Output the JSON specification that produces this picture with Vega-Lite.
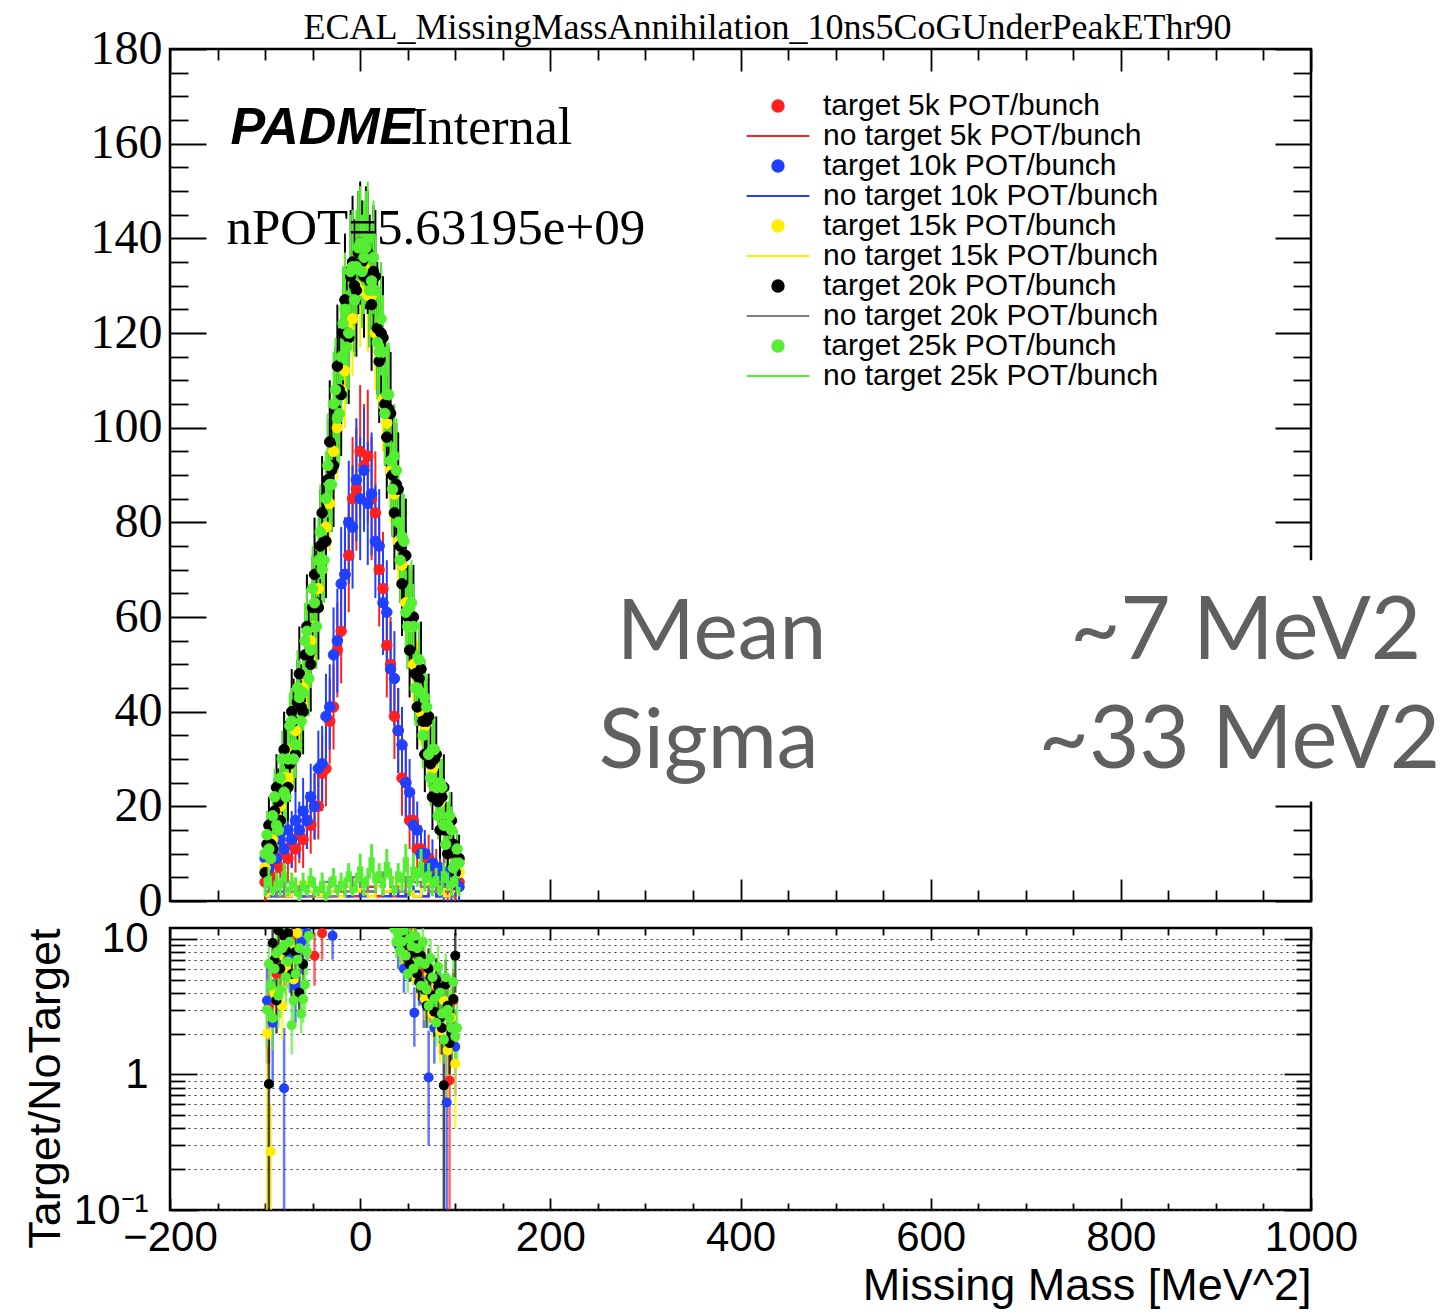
{
"$schema": "https://vega.github.io/schema/vega-lite/v6.json",
"background": "white",
"padding": {"left": 22, "top": 8, "right": 0, "bottom": 0},
"bounds": "flush",
"spacing": 27,
"config": {
  "view": {"stroke": "black", "strokeWidth": 2.5},
  "axis": {"domain": false, "grid": false, "labelColor": "black", "tickColor": "black", "tickWidth": 1.8, "labelFlush": false, "labelOverlap": false}
},
"resolve": {"scale": {"color": "independent", "stroke": "independent", "shape": "independent"}, "legend": {"color": "independent", "stroke": "independent", "shape": "independent"}},
"datasets": {
"main": [
{"s":"t5","x":-100,"y":4,"e":4},{"s":"t5","x":-96,"y":6,"e":4},{"s":"t5","x":-92,"y":5,"e":4},{"s":"t5","x":-88,"y":8,"e":5},{"s":"t5","x":-84,"y":7,"e":4},{"s":"t5","x":-80,"y":10,"e":5},{"s":"t5","x":-76,"y":9,"e":5},{"s":"t5","x":-72,"y":12,"e":5},{"s":"t5","x":-68,"y":11,"e":5},{"s":"t5","x":-64,"y":14,"e":6},{"s":"t5","x":-60,"y":13,"e":6},{"s":"t5","x":-56,"y":17,"e":6},{"s":"t5","x":-52,"y":16,"e":6},{"s":"t5","x":-48,"y":20,"e":7},{"s":"t5","x":-44,"y":20,"e":7},{"s":"t5","x":-40,"y":27,"e":8},{"s":"t5","x":-36,"y":28,"e":8},{"s":"t5","x":-32,"y":38,"e":9},{"s":"t5","x":-28,"y":41,"e":9},{"s":"t5","x":-24,"y":53,"e":10},{"s":"t5","x":-20,"y":57,"e":11},{"s":"t5","x":-16,"y":69,"e":12},{"s":"t5","x":-12,"y":73,"e":12},{"s":"t5","x":-8,"y":85,"e":13},{"s":"t5","x":-4,"y":87,"e":13},{"s":"t5","x":0,"y":95,"e":14},{"s":"t5","x":4,"y":92,"e":13},{"s":"t5","x":8,"y":94,"e":14},{"s":"t5","x":12,"y":85,"e":13},{"s":"t5","x":16,"y":82,"e":13},{"s":"t5","x":20,"y":70,"e":12},{"s":"t5","x":24,"y":66,"e":12},{"s":"t5","x":28,"y":54,"e":11},{"s":"t5","x":32,"y":50,"e":10},{"s":"t5","x":36,"y":39,"e":9},{"s":"t5","x":40,"y":36,"e":9},{"s":"t5","x":44,"y":26,"e":8},{"s":"t5","x":48,"y":25,"e":8},{"s":"t5","x":52,"y":17,"e":6},{"s":"t5","x":56,"y":17,"e":6},{"s":"t5","x":60,"y":11,"e":5},{"s":"t5","x":64,"y":11,"e":5},{"s":"t5","x":68,"y":8,"e":5},{"s":"t5","x":72,"y":9,"e":5},{"s":"t5","x":76,"y":6,"e":4},{"s":"t5","x":80,"y":7,"e":4},{"s":"t5","x":84,"y":5,"e":4},{"s":"t5","x":88,"y":6,"e":4},{"s":"t5","x":92,"y":4,"e":4},{"s":"t5","x":96,"y":5,"e":4},{"s":"t5","x":100,"y":3,"e":3},{"s":"t5","x":104,"y":4,"e":4},
{"s":"t10","x":-100,"y":9,"e":5},{"s":"t10","x":-96,"y":7,"e":4},{"s":"t10","x":-92,"y":10,"e":5},{"s":"t10","x":-88,"y":9,"e":5},{"s":"t10","x":-84,"y":13,"e":6},{"s":"t10","x":-80,"y":11,"e":5},{"s":"t10","x":-76,"y":15,"e":6},{"s":"t10","x":-72,"y":13,"e":6},{"s":"t10","x":-68,"y":17,"e":6},{"s":"t10","x":-64,"y":15,"e":6},{"s":"t10","x":-60,"y":19,"e":7},{"s":"t10","x":-56,"y":17,"e":6},{"s":"t10","x":-52,"y":22,"e":7},{"s":"t10","x":-48,"y":20,"e":7},{"s":"t10","x":-44,"y":28,"e":8},{"s":"t10","x":-40,"y":29,"e":8},{"s":"t10","x":-36,"y":39,"e":9},{"s":"t10","x":-32,"y":41,"e":9},{"s":"t10","x":-28,"y":52,"e":10},{"s":"t10","x":-24,"y":55,"e":11},{"s":"t10","x":-20,"y":67,"e":12},{"s":"t10","x":-16,"y":69,"e":12},{"s":"t10","x":-12,"y":80,"e":13},{"s":"t10","x":-8,"y":79,"e":13},{"s":"t10","x":-4,"y":89,"e":13},{"s":"t10","x":0,"y":85,"e":13},{"s":"t10","x":4,"y":91,"e":13},{"s":"t10","x":8,"y":84,"e":13},{"s":"t10","x":12,"y":86,"e":13},{"s":"t10","x":16,"y":76,"e":12},{"s":"t10","x":20,"y":75,"e":12},{"s":"t10","x":24,"y":63,"e":11},{"s":"t10","x":28,"y":61,"e":11},{"s":"t10","x":32,"y":49,"e":10},{"s":"t10","x":36,"y":47,"e":10},{"s":"t10","x":40,"y":36,"e":9},{"s":"t10","x":44,"y":33,"e":8},{"s":"t10","x":48,"y":25,"e":8},{"s":"t10","x":52,"y":23,"e":7},{"s":"t10","x":56,"y":16,"e":6},{"s":"t10","x":60,"y":15,"e":6},{"s":"t10","x":64,"y":10,"e":5},{"s":"t10","x":68,"y":10,"e":5},{"s":"t10","x":72,"y":7,"e":4},{"s":"t10","x":76,"y":8,"e":5},{"s":"t10","x":80,"y":5,"e":4},{"s":"t10","x":84,"y":7,"e":4},{"s":"t10","x":88,"y":4,"e":4},{"s":"t10","x":92,"y":6,"e":4},{"s":"t10","x":96,"y":4,"e":4},{"s":"t10","x":100,"y":5,"e":4},{"s":"t10","x":104,"y":3,"e":3},
{"s":"t15","x":-100,"y":7,"e":4},{"s":"t15","x":-96,"y":12,"e":4},{"s":"t15","x":-92,"y":13,"e":5},{"s":"t15","x":-88,"y":18,"e":5},{"s":"t15","x":-84,"y":20,"e":5},{"s":"t15","x":-80,"y":26,"e":6},{"s":"t15","x":-76,"y":26,"e":6},{"s":"t15","x":-72,"y":32,"e":7},{"s":"t15","x":-68,"y":36,"e":7},{"s":"t15","x":-64,"y":38,"e":7},{"s":"t15","x":-60,"y":45,"e":8},{"s":"t15","x":-56,"y":47,"e":8},{"s":"t15","x":-52,"y":55,"e":8},{"s":"t15","x":-48,"y":58,"e":9},{"s":"t15","x":-44,"y":66,"e":9},{"s":"t15","x":-40,"y":70,"e":9},{"s":"t15","x":-36,"y":79,"e":10},{"s":"t15","x":-32,"y":84,"e":10},{"s":"t15","x":-28,"y":95,"e":11},{"s":"t15","x":-24,"y":100,"e":11},{"s":"t15","x":-20,"y":108,"e":11},{"s":"t15","x":-16,"y":112,"e":12},{"s":"t15","x":-12,"y":121,"e":12},{"s":"t15","x":-8,"y":123,"e":12},{"s":"t15","x":-4,"y":130,"e":12},{"s":"t15","x":0,"y":129,"e":12},{"s":"t15","x":4,"y":134,"e":13},{"s":"t15","x":8,"y":128,"e":12},{"s":"t15","x":12,"y":128,"e":12},{"s":"t15","x":16,"y":120,"e":12},{"s":"t15","x":20,"y":116,"e":12},{"s":"t15","x":24,"y":106,"e":11},{"s":"t15","x":28,"y":101,"e":11},{"s":"t15","x":32,"y":91,"e":11},{"s":"t15","x":36,"y":86,"e":10},{"s":"t15","x":40,"y":76,"e":10},{"s":"t15","x":44,"y":71,"e":9},{"s":"t15","x":48,"y":63,"e":9},{"s":"t15","x":52,"y":58,"e":9},{"s":"t15","x":56,"y":50,"e":8},{"s":"t15","x":60,"y":47,"e":8},{"s":"t15","x":64,"y":40,"e":7},{"s":"t15","x":68,"y":37,"e":7},{"s":"t15","x":72,"y":31,"e":7},{"s":"t15","x":76,"y":28,"e":6},{"s":"t15","x":80,"y":23,"e":6},{"s":"t15","x":84,"y":21,"e":6},{"s":"t15","x":88,"y":16,"e":5},{"s":"t15","x":92,"y":15,"e":5},{"s":"t15","x":96,"y":11,"e":4},{"s":"t15","x":100,"y":9,"e":4},{"s":"t15","x":104,"y":6,"e":3},
{"s":"t20","x":-98,"y":12,"e":5},{"s":"t20","x":-94,"y":12,"e":5},{"s":"t20","x":-90,"y":19,"e":7},{"s":"t20","x":-86,"y":21,"e":7},{"s":"t20","x":-82,"y":22,"e":7},{"s":"t20","x":-78,"y":30,"e":8},{"s":"t20","x":-74,"y":29,"e":8},{"s":"t20","x":-70,"y":38,"e":9},{"s":"t20","x":-66,"y":42,"e":9},{"s":"t20","x":-62,"y":41,"e":9},{"s":"t20","x":-58,"y":52,"e":10},{"s":"t20","x":-54,"y":52,"e":10},{"s":"t20","x":-50,"y":62,"e":11},{"s":"t20","x":-46,"y":63,"e":11},{"s":"t20","x":-42,"y":75,"e":12},{"s":"t20","x":-38,"y":76,"e":12},{"s":"t20","x":-34,"y":89,"e":13},{"s":"t20","x":-30,"y":91,"e":13},{"s":"t20","x":-26,"y":104,"e":13},{"s":"t20","x":-22,"y":108,"e":13},{"s":"t20","x":-18,"y":120,"e":14},{"s":"t20","x":-14,"y":120,"e":14},{"s":"t20","x":-10,"y":132,"e":14},{"s":"t20","x":-6,"y":130,"e":14},{"s":"t20","x":-2,"y":137,"e":13},{"s":"t20","x":2,"y":135,"e":13},{"s":"t20","x":6,"y":138,"e":13},{"s":"t20","x":10,"y":131,"e":14},{"s":"t20","x":14,"y":133,"e":14},{"s":"t20","x":18,"y":121,"e":14},{"s":"t20","x":22,"y":120,"e":14},{"s":"t20","x":26,"y":105,"e":13},{"s":"t20","x":30,"y":104,"e":13},{"s":"t20","x":34,"y":90,"e":13},{"s":"t20","x":38,"y":88,"e":13},{"s":"t20","x":42,"y":75,"e":12},{"s":"t20","x":46,"y":73,"e":12},{"s":"t20","x":50,"y":60,"e":11},{"s":"t20","x":54,"y":59,"e":11},{"s":"t20","x":58,"y":48,"e":10},{"s":"t20","x":62,"y":47,"e":10},{"s":"t20","x":66,"y":38,"e":9},{"s":"t20","x":70,"y":38,"e":9},{"s":"t20","x":74,"y":29,"e":8},{"s":"t20","x":78,"y":30,"e":8},{"s":"t20","x":82,"y":21,"e":7},{"s":"t20","x":86,"y":22,"e":7},{"s":"t20","x":90,"y":15,"e":6},{"s":"t20","x":94,"y":15,"e":6},{"s":"t20","x":98,"y":12,"e":5},{"s":"t20","x":102,"y":9,"e":5},
{"s":"t20","x":-100,"y":6,"e":4},{"s":"t20","x":-96,"y":16,"e":6},{"s":"t20","x":-92,"y":11,"e":5},{"s":"t20","x":-88,"y":24,"e":7},{"s":"t20","x":-84,"y":17,"e":6},{"s":"t20","x":-80,"y":32,"e":8},{"s":"t20","x":-76,"y":24,"e":7},{"s":"t20","x":-72,"y":40,"e":9},{"s":"t20","x":-68,"y":31,"e":8},{"s":"t20","x":-64,"y":48,"e":10},{"s":"t20","x":-60,"y":40,"e":9},{"s":"t20","x":-56,"y":58,"e":11},{"s":"t20","x":-52,"y":50,"e":10},{"s":"t20","x":-48,"y":69,"e":12},{"s":"t20","x":-44,"y":62,"e":11},{"s":"t20","x":-40,"y":82,"e":12},{"s":"t20","x":-36,"y":76,"e":12},{"s":"t20","x":-32,"y":97,"e":13},{"s":"t20","x":-28,"y":92,"e":13},{"s":"t20","x":-24,"y":113,"e":13},{"s":"t20","x":-20,"y":107,"e":13},{"s":"t20","x":-16,"y":127,"e":14},{"s":"t20","x":-12,"y":119,"e":14},{"s":"t20","x":-8,"y":135,"e":14},{"s":"t20","x":-4,"y":129,"e":14},{"s":"t20","x":0,"y":139,"e":13},{"s":"t20","x":4,"y":132,"e":13},{"s":"t20","x":8,"y":137,"e":13},{"s":"t20","x":12,"y":126,"e":14},{"s":"t20","x":16,"y":132,"e":14},{"s":"t20","x":20,"y":114,"e":13},{"s":"t20","x":24,"y":119,"e":13},{"s":"t20","x":28,"y":98,"e":13},{"s":"t20","x":32,"y":103,"e":13},{"s":"t20","x":36,"y":82,"e":12},{"s":"t20","x":40,"y":87,"e":12},{"s":"t20","x":44,"y":67,"e":11},{"s":"t20","x":48,"y":73,"e":12},{"s":"t20","x":52,"y":53,"e":10},{"s":"t20","x":56,"y":60,"e":11},{"s":"t20","x":60,"y":41,"e":9},{"s":"t20","x":64,"y":49,"e":10},{"s":"t20","x":68,"y":31,"e":8},{"s":"t20","x":72,"y":39,"e":9},{"s":"t20","x":76,"y":22,"e":7},{"s":"t20","x":80,"y":31,"e":8},{"s":"t20","x":84,"y":15,"e":6},{"s":"t20","x":88,"y":24,"e":7},{"s":"t20","x":92,"y":10,"e":5},{"s":"t20","x":96,"y":17,"e":6},{"s":"t20","x":100,"y":6,"e":4},{"s":"t20","x":104,"y":9,"e":5},
{"s":"t25","x":-100,"y":10,"e":4},{"s":"t25","x":-96,"y":11,"e":4},{"s":"t25","x":-92,"y":18,"e":5},{"s":"t25","x":-88,"y":16,"e":5},{"s":"t25","x":-84,"y":26,"e":6},{"s":"t25","x":-80,"y":23,"e":6},{"s":"t25","x":-76,"y":30,"e":6},{"s":"t25","x":-72,"y":38,"e":7},{"s":"t25","x":-68,"y":33,"e":7},{"s":"t25","x":-64,"y":43,"e":8},{"s":"t25","x":-60,"y":44,"e":8},{"s":"t25","x":-56,"y":57,"e":9},{"s":"t25","x":-52,"y":53,"e":8},{"s":"t25","x":-48,"y":63,"e":9},{"s":"t25","x":-44,"y":72,"e":9},{"s":"t25","x":-40,"y":70,"e":9},{"s":"t25","x":-36,"y":85,"e":10},{"s":"t25","x":-32,"y":88,"e":10},{"s":"t25","x":-28,"y":105,"e":11},{"s":"t25","x":-24,"y":102,"e":11},{"s":"t25","x":-20,"y":115,"e":12},{"s":"t25","x":-16,"y":125,"e":12},{"s":"t25","x":-12,"y":120,"e":12},{"s":"t25","x":-8,"y":134,"e":12},{"s":"t25","x":-4,"y":134,"e":12},{"s":"t25","x":0,"y":139,"e":12},{"s":"t25","x":4,"y":136,"e":12},{"s":"t25","x":8,"y":140,"e":12},{"s":"t25","x":12,"y":131,"e":12},{"s":"t25","x":16,"y":129,"e":12},{"s":"t25","x":20,"y":116,"e":12},{"s":"t25","x":24,"y":116,"e":12},{"s":"t25","x":28,"y":107,"e":11},{"s":"t25","x":32,"y":93,"e":11},{"s":"t25","x":36,"y":94,"e":11},{"s":"t25","x":40,"y":80,"e":10},{"s":"t25","x":44,"y":77,"e":10},{"s":"t25","x":48,"y":61,"e":9},{"s":"t25","x":52,"y":62,"e":9},{"s":"t25","x":56,"y":58,"e":9},{"s":"t25","x":60,"y":45,"e":8},{"s":"t25","x":64,"y":44,"e":8},{"s":"t25","x":68,"y":43,"e":8},{"s":"t25","x":72,"y":31,"e":7},{"s":"t25","x":76,"y":32,"e":7},{"s":"t25","x":80,"y":24,"e":6},{"s":"t25","x":84,"y":25,"e":6},{"s":"t25","x":88,"y":16,"e":5},{"s":"t25","x":92,"y":16,"e":5},{"s":"t25","x":96,"y":15,"e":5},{"s":"t25","x":100,"y":8,"e":4},{"s":"t25","x":104,"y":8,"e":4},
{"s":"t25","x":-98,"y":14,"e":5},{"s":"t25","x":-94,"y":9,"e":4},{"s":"t25","x":-90,"y":22,"e":6},{"s":"t25","x":-86,"y":15,"e":5},{"s":"t25","x":-82,"y":30,"e":6},{"s":"t25","x":-78,"y":22,"e":6},{"s":"t25","x":-74,"y":37,"e":7},{"s":"t25","x":-70,"y":30,"e":6},{"s":"t25","x":-66,"y":45,"e":8},{"s":"t25","x":-62,"y":38,"e":7},{"s":"t25","x":-58,"y":55,"e":8},{"s":"t25","x":-54,"y":47,"e":8},{"s":"t25","x":-50,"y":66,"e":9},{"s":"t25","x":-46,"y":58,"e":9},{"s":"t25","x":-42,"y":78,"e":10},{"s":"t25","x":-38,"y":72,"e":9},{"s":"t25","x":-34,"y":92,"e":11},{"s":"t25","x":-30,"y":88,"e":10},{"s":"t25","x":-26,"y":108,"e":11},{"s":"t25","x":-22,"y":103,"e":11},{"s":"t25","x":-18,"y":122,"e":12},{"s":"t25","x":-14,"y":117,"e":12},{"s":"t25","x":-10,"y":133,"e":12},{"s":"t25","x":-6,"y":127,"e":12},{"s":"t25","x":-2,"y":138,"e":12},{"s":"t25","x":2,"y":133,"e":12},{"s":"t25","x":6,"y":138,"e":12},{"s":"t25","x":10,"y":129,"e":12},{"s":"t25","x":14,"y":136,"e":12},{"s":"t25","x":18,"y":118,"e":12},{"s":"t25","x":22,"y":123,"e":12},{"s":"t25","x":26,"y":103,"e":11},{"s":"t25","x":30,"y":107,"e":11},{"s":"t25","x":34,"y":87,"e":10},{"s":"t25","x":38,"y":91,"e":11},{"s":"t25","x":42,"y":72,"e":9},{"s":"t25","x":46,"y":76,"e":10},{"s":"t25","x":50,"y":58,"e":9},{"s":"t25","x":54,"y":63,"e":9},{"s":"t25","x":58,"y":45,"e":8},{"s":"t25","x":62,"y":51,"e":8},{"s":"t25","x":66,"y":35,"e":7},{"s":"t25","x":70,"y":41,"e":7},{"s":"t25","x":74,"y":26,"e":6},{"s":"t25","x":78,"y":32,"e":7},{"s":"t25","x":82,"y":18,"e":5},{"s":"t25","x":86,"y":24,"e":6},{"s":"t25","x":90,"y":12,"e":4},{"s":"t25","x":94,"y":18,"e":5},{"s":"t25","x":98,"y":7,"e":4},{"s":"t25","x":102,"y":11,"e":4}
],
"nt": [
{"s":"n5","x":-100,"y":1},{"s":"n5","x":-92,"y":2},{"s":"n5","x":-84,"y":1},{"s":"n5","x":-76,"y":1},{"s":"n5","x":-68,"y":2},{"s":"n5","x":-60,"y":1},{"s":"n5","x":-52,"y":1},{"s":"n5","x":-44,"y":2},{"s":"n5","x":-36,"y":1},{"s":"n5","x":-28,"y":1},{"s":"n5","x":-20,"y":2},{"s":"n5","x":-12,"y":1},{"s":"n5","x":-4,"y":1},{"s":"n5","x":4,"y":2},{"s":"n5","x":12,"y":3},{"s":"n5","x":20,"y":1},{"s":"n5","x":28,"y":2},{"s":"n5","x":36,"y":1},{"s":"n5","x":44,"y":1},{"s":"n5","x":52,"y":2},{"s":"n5","x":60,"y":1},{"s":"n5","x":68,"y":1},{"s":"n5","x":76,"y":2},{"s":"n5","x":84,"y":1},{"s":"n5","x":92,"y":2},{"s":"n5","x":100,"y":1},
{"s":"n10","x":-100,"y":1},{"s":"n10","x":-92,"y":1},{"s":"n10","x":-84,"y":2},{"s":"n10","x":-76,"y":1},{"s":"n10","x":-68,"y":3},{"s":"n10","x":-60,"y":1},{"s":"n10","x":-52,"y":2},{"s":"n10","x":-44,"y":1},{"s":"n10","x":-36,"y":1},{"s":"n10","x":-28,"y":2},{"s":"n10","x":-20,"y":3},{"s":"n10","x":-12,"y":1},{"s":"n10","x":-4,"y":2},{"s":"n10","x":4,"y":1},{"s":"n10","x":12,"y":2},{"s":"n10","x":20,"y":3},{"s":"n10","x":28,"y":1},{"s":"n10","x":36,"y":2},{"s":"n10","x":44,"y":1},{"s":"n10","x":52,"y":3},{"s":"n10","x":60,"y":2},{"s":"n10","x":68,"y":1},{"s":"n10","x":76,"y":2},{"s":"n10","x":84,"y":1},{"s":"n10","x":92,"y":1},{"s":"n10","x":100,"y":2},
{"s":"n15","x":-100,"y":1},{"s":"n15","x":-92,"y":2},{"s":"n15","x":-84,"y":3},{"s":"n15","x":-76,"y":1},{"s":"n15","x":-68,"y":2},{"s":"n15","x":-60,"y":4},{"s":"n15","x":-52,"y":2},{"s":"n15","x":-44,"y":1},{"s":"n15","x":-36,"y":3},{"s":"n15","x":-28,"y":2},{"s":"n15","x":-20,"y":1},{"s":"n15","x":-12,"y":3},{"s":"n15","x":-4,"y":2},{"s":"n15","x":4,"y":4},{"s":"n15","x":12,"y":1},{"s":"n15","x":20,"y":3},{"s":"n15","x":28,"y":2},{"s":"n15","x":36,"y":5},{"s":"n15","x":44,"y":3},{"s":"n15","x":52,"y":2},{"s":"n15","x":60,"y":1},{"s":"n15","x":68,"y":4},{"s":"n15","x":76,"y":2},{"s":"n15","x":84,"y":3},{"s":"n15","x":92,"y":1},{"s":"n15","x":100,"y":2},
{"s":"n20","x":-100,"y":2},{"s":"n20","x":-92,"y":3},{"s":"n20","x":-84,"y":1},{"s":"n20","x":-76,"y":4},{"s":"n20","x":-68,"y":2},{"s":"n20","x":-60,"y":3},{"s":"n20","x":-52,"y":1},{"s":"n20","x":-44,"y":2},{"s":"n20","x":-36,"y":4},{"s":"n20","x":-28,"y":1},{"s":"n20","x":-20,"y":3},{"s":"n20","x":-12,"y":2},{"s":"n20","x":-4,"y":5},{"s":"n20","x":4,"y":3},{"s":"n20","x":12,"y":2},{"s":"n20","x":20,"y":4},{"s":"n20","x":28,"y":6},{"s":"n20","x":36,"y":3},{"s":"n20","x":44,"y":2},{"s":"n20","x":52,"y":5},{"s":"n20","x":60,"y":4},{"s":"n20","x":68,"y":3},{"s":"n20","x":76,"y":2},{"s":"n20","x":84,"y":4},{"s":"n20","x":92,"y":3},{"s":"n20","x":100,"y":1},
{"s":"n25","x":-100,"y":3,"e":2},{"s":"n25","x":-96,"y":5,"e":2},{"s":"n25","x":-92,"y":2,"e":1},{"s":"n25","x":-88,"y":4,"e":2},{"s":"n25","x":-84,"y":3,"e":2},{"s":"n25","x":-80,"y":6,"e":2},{"s":"n25","x":-76,"y":2,"e":1},{"s":"n25","x":-72,"y":4,"e":2},{"s":"n25","x":-68,"y":3,"e":2},{"s":"n25","x":-64,"y":1,"e":1},{"s":"n25","x":-60,"y":4,"e":2},{"s":"n25","x":-56,"y":2,"e":1},{"s":"n25","x":-52,"y":5,"e":2},{"s":"n25","x":-48,"y":3,"e":2},{"s":"n25","x":-44,"y":2,"e":1},{"s":"n25","x":-40,"y":4,"e":2},{"s":"n25","x":-36,"y":1,"e":1},{"s":"n25","x":-32,"y":3,"e":2},{"s":"n25","x":-28,"y":5,"e":2},{"s":"n25","x":-24,"y":2,"e":1},{"s":"n25","x":-20,"y":4,"e":2},{"s":"n25","x":-16,"y":3,"e":2},{"s":"n25","x":-12,"y":6,"e":2},{"s":"n25","x":-8,"y":2,"e":1},{"s":"n25","x":-4,"y":4,"e":2},{"s":"n25","x":0,"y":7,"e":3},{"s":"n25","x":4,"y":3,"e":2},{"s":"n25","x":8,"y":5,"e":2},{"s":"n25","x":12,"y":9,"e":3},{"s":"n25","x":16,"y":4,"e":2},{"s":"n25","x":20,"y":6,"e":2},{"s":"n25","x":24,"y":3,"e":2},{"s":"n25","x":28,"y":8,"e":3},{"s":"n25","x":32,"y":5,"e":2},{"s":"n25","x":36,"y":2,"e":1},{"s":"n25","x":40,"y":6,"e":2},{"s":"n25","x":44,"y":4,"e":2},{"s":"n25","x":48,"y":9,"e":3},{"s":"n25","x":52,"y":3,"e":2},{"s":"n25","x":56,"y":7,"e":3},{"s":"n25","x":60,"y":5,"e":2},{"s":"n25","x":64,"y":8,"e":3},{"s":"n25","x":68,"y":4,"e":2},{"s":"n25","x":72,"y":6,"e":2},{"s":"n25","x":76,"y":3,"e":2},{"s":"n25","x":80,"y":5,"e":2},{"s":"n25","x":84,"y":2,"e":1},{"s":"n25","x":88,"y":6,"e":2},{"s":"n25","x":92,"y":4,"e":2},{"s":"n25","x":96,"y":3,"e":2},{"s":"n25","x":100,"y":5,"e":2},{"s":"n25","x":104,"y":2,"e":1}
],
"ratio": [
{"s":"t5","x":-96,"y":3.2,"lo":1.2,"hi":6.5},{"s":"t5","x":-88,"y":5.5,"lo":2.6,"hi":9.5},{"s":"t5","x":-80,"y":8.5,"lo":4.5,"hi":13},{"s":"t5","x":-72,"y":10.5,"lo":6,"hi":15},{"s":"t5","x":-48,"y":7.5,"lo":4.5,"hi":11},{"s":"t5","x":-40,"y":11,"lo":7,"hi":15},{"s":"t5","x":44,"y":10,"lo":6,"hi":14},{"s":"t5","x":54,"y":8,"lo":5,"hi":12},{"s":"t5","x":64,"y":5.5,"lo":3.4,"hi":8.5},{"s":"t5","x":74,"y":4,"lo":2.4,"hi":6.5},{"s":"t5","x":84,"y":2.8,"lo":1.4,"hi":5},{"s":"t5","x":94,"y":0.9,"lo":0.05,"hi":2.2},{"s":"t5","x":98,"y":3.5,"lo":1.8,"hi":6},
{"s":"t10","x":-98,"y":3.5,"lo":1.2,"hi":7},{"s":"t10","x":-92,"y":2.4,"lo":0.8,"hi":5},{"s":"t10","x":-86,"y":6,"lo":3,"hi":10},{"s":"t10","x":-80,"y":0.79,"lo":0.05,"hi":2.2},{"s":"t10","x":-74,"y":7.5,"lo":4,"hi":12},{"s":"t10","x":-68,"y":4.5,"lo":2.4,"hi":7.5},{"s":"t10","x":-62,"y":9.5,"lo":5.5,"hi":14},{"s":"t10","x":-56,"y":11,"lo":7,"hi":15},{"s":"t10","x":-29,"y":10.5,"lo":7,"hi":15},{"s":"t10","x":40,"y":9,"lo":6,"hi":13},{"s":"t10","x":46,"y":6,"lo":4,"hi":9},{"s":"t10","x":52,"y":7.5,"lo":5,"hi":11},{"s":"t10","x":57,"y":2.85,"lo":1.6,"hi":4.4},{"s":"t10","x":62,"y":5,"lo":3.2,"hi":7.5},{"s":"t10","x":67,"y":3.5,"lo":2.2,"hi":5.5},{"s":"t10","x":72,"y":0.95,"lo":0.3,"hi":2.1},{"s":"t10","x":78,"y":2.2,"lo":1.2,"hi":3.6},{"s":"t10","x":84,"y":3.8,"lo":2.2,"hi":6},{"s":"t10","x":91,"y":0.62,"lo":0.05,"hi":1.6},{"s":"t10","x":96,"y":2.6,"lo":1.4,"hi":4.4},{"s":"t10","x":100,"y":1.6,"lo":0.7,"hi":3},
{"s":"t15","x":-98,"y":2,"lo":0.05,"hi":4},{"s":"t15","x":-94,"y":0.27,"lo":0.05,"hi":0.6},{"s":"t15","x":-90,"y":4,"lo":2.2,"hi":6.5},{"s":"t15","x":-86,"y":7.5,"lo":4.5,"hi":11},{"s":"t15","x":-82,"y":3.2,"lo":1.8,"hi":5.2},{"s":"t15","x":-78,"y":6,"lo":3.8,"hi":9},{"s":"t15","x":-74,"y":9,"lo":6,"hi":12},{"s":"t15","x":-70,"y":5,"lo":3.2,"hi":7.5},{"s":"t15","x":-66,"y":11,"lo":7.5,"hi":14},{"s":"t15","x":40,"y":11.5,"lo":8,"hi":14},{"s":"t15","x":44,"y":8,"lo":6,"hi":10.5},{"s":"t15","x":48,"y":10,"lo":7.5,"hi":13},{"s":"t15","x":52,"y":6.8,"lo":5,"hi":9},{"s":"t15","x":56,"y":9,"lo":6.5,"hi":12},{"s":"t15","x":60,"y":5,"lo":3.6,"hi":7},{"s":"t15","x":64,"y":7,"lo":5,"hi":9.5},{"s":"t15","x":68,"y":3.6,"lo":2.5,"hi":5.2},{"s":"t15","x":72,"y":5.5,"lo":3.8,"hi":8},{"s":"t15","x":76,"y":2.8,"lo":1.8,"hi":4.2},{"s":"t15","x":80,"y":4.5,"lo":3,"hi":6.8},{"s":"t15","x":84,"y":2.1,"lo":1.2,"hi":3.4},{"s":"t15","x":88,"y":3.5,"lo":2.1,"hi":5.5},{"s":"t15","x":92,"y":1.5,"lo":0.6,"hi":2.8},{"s":"t15","x":96,"y":2.6,"lo":1.4,"hi":4.4},{"s":"t15","x":100,"y":1.2,"lo":0.4,"hi":2.4},
{"s":"t20","x":-96,"y":0.85,"lo":0.05,"hi":1.8},{"s":"t20","x":-92,"y":9.3,"lo":6,"hi":13},{"s":"t20","x":-88,"y":3.5,"lo":2,"hi":5.5},{"s":"t20","x":-84,"y":6,"lo":3.8,"hi":9},{"s":"t20","x":-80,"y":10.5,"lo":7,"hi":14},{"s":"t20","x":-76,"y":11,"lo":7.5,"hi":14},{"s":"t20","x":-72,"y":5.5,"lo":3.5,"hi":8},{"s":"t20","x":-68,"y":8,"lo":5,"hi":11},{"s":"t20","x":-64,"y":4,"lo":2.6,"hi":6},{"s":"t20","x":-60,"y":6.5,"lo":4.2,"hi":9.5},{"s":"t20","x":44,"y":11,"lo":8,"hi":14},{"s":"t20","x":48,"y":9,"lo":6.5,"hi":12},{"s":"t20","x":52,"y":6.5,"lo":4.8,"hi":8.5},{"s":"t20","x":56,"y":8,"lo":5.8,"hi":11},{"s":"t20","x":60,"y":5.5,"lo":4,"hi":7.5},{"s":"t20","x":64,"y":7.5,"lo":5.5,"hi":10},{"s":"t20","x":68,"y":4.2,"lo":3,"hi":6},{"s":"t20","x":72,"y":6,"lo":4.2,"hi":8.5},{"s":"t20","x":76,"y":3.8,"lo":2.6,"hi":5.5},{"s":"t20","x":80,"y":5,"lo":3.4,"hi":7.2},{"s":"t20","x":84,"y":2.6,"lo":1.7,"hi":3.9},{"s":"t20","x":88,"y":0.83,"lo":0.05,"hi":1.8},{"s":"t20","x":92,"y":3.2,"lo":2,"hi":5},{"s":"t20","x":96,"y":2,"lo":1.2,"hi":3.2},{"s":"t20","x":100,"y":7.5,"lo":4,"hi":11},
{"s":"t20","x":-90,"y":7,"lo":4.5,"hi":10},{"s":"t20","x":-86,"y":11.5,"lo":8,"hi":14},{"s":"t20","x":-78,"y":8.2,"lo":5.5,"hi":11},{"s":"t20","x":46,"y":10,"lo":7.5,"hi":13},{"s":"t20","x":50,"y":7.2,"lo":5.3,"hi":9.5},{"s":"t20","x":58,"y":9.6,"lo":7,"hi":12.5},{"s":"t20","x":62,"y":4.8,"lo":3.5,"hi":6.6},{"s":"t20","x":66,"y":6.8,"lo":5,"hi":9.2},{"s":"t20","x":70,"y":3.2,"lo":2.2,"hi":4.6},{"s":"t20","x":74,"y":5.2,"lo":3.6,"hi":7.4},{"s":"t20","x":78,"y":2.9,"lo":1.9,"hi":4.3},{"s":"t20","x":82,"y":4.4,"lo":3,"hi":6.4},{"s":"t20","x":86,"y":2.2,"lo":1.4,"hi":3.4},{"s":"t20","x":90,"y":4.6,"lo":3,"hi":7},{"s":"t20","x":94,"y":1.7,"lo":1,"hi":2.8},{"s":"t20","x":98,"y":3.6,"lo":2.2,"hi":5.6},
{"s":"t25","x":-98,"y":3,"lo":1.6,"hi":5},{"s":"t25","x":-94,"y":4.5,"lo":2.5,"hi":7},{"s":"t25","x":-90,"y":6,"lo":3.5,"hi":9},{"s":"t25","x":-86,"y":3.8,"lo":2.2,"hi":6},{"s":"t25","x":-82,"y":8.5,"lo":5,"hi":12},{"s":"t25","x":-78,"y":5.2,"lo":3,"hi":8},{"s":"t25","x":-74,"y":9.5,"lo":6,"hi":13},{"s":"t25","x":-70,"y":3.5,"lo":2.2,"hi":5.5},{"s":"t25","x":-66,"y":7,"lo":4.5,"hi":10},{"s":"t25","x":-62,"y":2.8,"lo":2,"hi":4},{"s":"t25","x":-58,"y":4.6,"lo":3,"hi":7},{"s":"t25","x":-54,"y":10.5,"lo":7,"hi":14},{"s":"t25","x":40,"y":11,"lo":8,"hi":14},{"s":"t25","x":44,"y":9.5,"lo":7,"hi":12},{"s":"t25","x":48,"y":7.5,"lo":5.5,"hi":10},{"s":"t25","x":52,"y":10,"lo":7,"hi":13},{"s":"t25","x":56,"y":6,"lo":4.5,"hi":8},{"s":"t25","x":60,"y":8.5,"lo":6,"hi":11},{"s":"t25","x":64,"y":4.5,"lo":3.2,"hi":6.5},{"s":"t25","x":68,"y":6.5,"lo":4.5,"hi":9},{"s":"t25","x":72,"y":3.2,"lo":2.2,"hi":4.6},{"s":"t25","x":76,"y":5.2,"lo":3.5,"hi":7.5},{"s":"t25","x":80,"y":2.4,"lo":1.6,"hi":3.5},{"s":"t25","x":84,"y":4,"lo":2.7,"hi":6},{"s":"t25","x":88,"y":1.8,"lo":1.2,"hi":2.8},{"s":"t25","x":92,"y":3,"lo":1.9,"hi":4.6},{"s":"t25","x":96,"y":2.2,"lo":1.4,"hi":3.4},{"s":"t25","x":100,"y":1.9,"lo":1.1,"hi":3},
{"s":"t25","x":-96,"y":6.5,"lo":4,"hi":9.5},{"s":"t25","x":-92,"y":2.6,"lo":1.5,"hi":4.2},{"s":"t25","x":-88,"y":7.8,"lo":5,"hi":11},{"s":"t25","x":-84,"y":4.2,"lo":2.6,"hi":6.4},{"s":"t25","x":-80,"y":9,"lo":6,"hi":12},{"s":"t25","x":-76,"y":6.8,"lo":4.3,"hi":10},{"s":"t25","x":-72,"y":2.3,"lo":1.4,"hi":3.6},{"s":"t25","x":-68,"y":5.5,"lo":3.6,"hi":8},{"s":"t25","x":-64,"y":8.5,"lo":5.6,"hi":12},{"s":"t25","x":-60,"y":3.6,"lo":2.4,"hi":5.4},{"s":"t25","x":-56,"y":8,"lo":5.4,"hi":11},{"s":"t25","x":36,"y":11.8,"lo":9,"hi":14},{"s":"t25","x":38,"y":9.5,"lo":7.2,"hi":12.5},{"s":"t25","x":42,"y":8.2,"lo":6,"hi":11},{"s":"t25","x":46,"y":11.5,"lo":8.5,"hi":14},{"s":"t25","x":50,"y":5.5,"lo":4,"hi":7.5},{"s":"t25","x":54,"y":8.8,"lo":6.5,"hi":11.5},{"s":"t25","x":58,"y":10.5,"lo":8,"hi":13.5},{"s":"t25","x":62,"y":6.8,"lo":5,"hi":9},{"s":"t25","x":66,"y":9.5,"lo":7,"hi":12.5},{"s":"t25","x":70,"y":4.2,"lo":3,"hi":6},{"s":"t25","x":74,"y":7.2,"lo":5,"hi":10},{"s":"t25","x":78,"y":3.6,"lo":2.5,"hi":5.2},{"s":"t25","x":82,"y":6.2,"lo":4.2,"hi":9},{"s":"t25","x":86,"y":2.8,"lo":1.8,"hi":4.2},{"s":"t25","x":90,"y":5.2,"lo":3.4,"hi":7.8},{"s":"t25","x":94,"y":2.6,"lo":1.6,"hi":4.2},{"s":"t25","x":98,"y":4.8,"lo":3,"hi":7.5},{"s":"t25","x":102,"y":2.2,"lo":1.2,"hi":3.8}
]
},
"vconcat": [
{
  "width": 1141, "height": 852,
  "title": {"text": "ECAL_MissingMassAnnihilation_10ns5CoGUnderPeakEThr90", "font": "Liberation Serif", "fontSize": 36, "fontWeight": "normal", "color": "black", "anchor": "middle", "dx": 27, "offset": -22},
  "resolve": {"axis": {"x": "independent", "y": "independent"}},
  "layer": [
    {
      "data": {"name": "main"},
      "mark": {"type": "errorbar", "ticks": false, "thickness": 2, "clip": true},
      "encoding": {
        "x": {"field": "x", "type": "quantitative", "scale": {"domain": [-200, 1000], "nice": false, "zero": false}, "axis": null},
        "y": {"field": "y", "type": "quantitative", "scale": {"domain": [0, 180], "nice": false}, "axis": null},
        "yError": {"field": "e"},
        "color": {"field": "s", "type": "nominal",
          "scale": {"domain": ["t5","n5","t10","n10","t15","n15","t20","n20","t25","n25"], "range": ["#ff2020","#ff2020","#2040ff","#2040ff","#ffee00","#ffee00","#000000","#808080","#55ee33","#55ee33"]}}
      }
    },
    {
      "data": {"name": "main"},
      "mark": {"type": "point", "filled": true, "size": 110, "opacity": 1, "strokeWidth": 1, "clip": true},
      "encoding": {
        "x": {"field": "x", "type": "quantitative", "axis": {"orient": "top", "values": [-200,-150,-100,-50,0,50,100,150,200,250,300,350,400,450,500,550,600,650,700,750,800,850,900,950,1000], "labels": false, "title": null, "tickSize": {"condition": {"test": "datum.value % 200 === 0", "value": -22}, "value": -11}}},
        "y": {"field": "y", "type": "quantitative", "axis": {"orient": "right", "values": [0,5,10,15,20,25,30,35,40,45,50,55,60,65,70,75,80,85,90,95,100,105,110,115,120,125,130,135,140,145,150,155,160,165,170,175,180], "labels": false, "title": null, "tickSize": {"condition": {"test": "datum.value % 20 === 0", "value": -36}, "value": -18}}},
        "color": {"field": "s", "type": "nominal",
          "legend": {"title": null, "orient": "none", "legendX": 593, "legendY": 42, "padding": 0, "labelFont": "Liberation Sans", "labelFontSize": 30, "labelColor": "black", "labelLimit": 700, "rowPadding": 0, "labelOffset": 30, "symbolSize": 130, "symbolStrokeWidth": 2,
            "labelExpr": "['target 5k POT/bunch','no target 5k POT/bunch','target 10k POT/bunch','no target 10k POT/bunch','target 15k POT/bunch','no target 15k POT/bunch','target 20k POT/bunch','no target 20k POT/bunch','target 25k POT/bunch','no target 25k POT/bunch'][indexof(['t5','n5','t10','n10','t15','n15','t20','n20','t25','n25'], datum.value)]"}},
        "stroke": {"field": "s", "type": "nominal",
          "scale": {"domain": ["t5","n5","t10","n10","t15","n15","t20","n20","t25","n25"], "range": ["#ff2020","#ff2020","#2040ff","#2040ff","#ffee00","#ffee00","#000000","#808080","#55ee33","#55ee33"]},
          "legend": {"title": null, "orient": "none", "legendX": 593, "legendY": 42, "padding": 0, "labelFont": "Liberation Sans", "labelFontSize": 30, "labelColor": "black", "labelLimit": 700, "rowPadding": 0, "labelOffset": 30, "symbolSize": 130, "symbolStrokeWidth": 2,
            "labelExpr": "['target 5k POT/bunch','no target 5k POT/bunch','target 10k POT/bunch','no target 10k POT/bunch','target 15k POT/bunch','no target 15k POT/bunch','target 20k POT/bunch','no target 20k POT/bunch','target 25k POT/bunch','no target 25k POT/bunch'][indexof(['t5','n5','t10','n10','t15','n15','t20','n20','t25','n25'], datum.value)]"}},
        "shape": {"field": "s", "type": "nominal",
          "scale": {"domain": ["t5","n5","t10","n10","t15","n15","t20","n20","t25","n25"], "range": ["circle","M-5.5,0H5.5","circle","M-5.5,0H5.5","circle","M-5.5,0H5.5","circle","M-5.5,0H5.5","circle","M-5.5,0H5.5"]},
          "legend": {"title": null, "orient": "none", "legendX": 593, "legendY": 42, "padding": 0, "labelFont": "Liberation Sans", "labelFontSize": 30, "labelColor": "black", "labelLimit": 700, "rowPadding": 0, "labelOffset": 30, "symbolSize": 130, "symbolStrokeWidth": 2,
            "labelExpr": "['target 5k POT/bunch','no target 5k POT/bunch','target 10k POT/bunch','no target 10k POT/bunch','target 15k POT/bunch','no target 15k POT/bunch','target 20k POT/bunch','no target 20k POT/bunch','target 25k POT/bunch','no target 25k POT/bunch'][indexof(['t5','n5','t10','n10','t15','n15','t20','n20','t25','n25'], datum.value)]"}}
      }
    },
    {
      "data": {"name": "nt"},
      "mark": {"type": "line", "interpolate": "step", "strokeWidth": 2.5, "clip": true},
      "encoding": {
        "x": {"field": "x", "type": "quantitative", "axis": {"orient": "bottom", "values": [-200,-150,-100,-50,0,50,100,150,200,250,300,350,400,450,500,550,600,650,700,750,800,850,900,950,1000], "labels": false, "title": null, "tickSize": {"condition": {"test": "datum.value % 200 === 0", "value": -22}, "value": -11}}},
        "y": {"field": "y", "type": "quantitative", "axis": {"orient": "left", "values": [0,5,10,15,20,25,30,35,40,45,50,55,60,65,70,75,80,85,90,95,100,105,110,115,120,125,130,135,140,145,150,155,160,165,170,175,180], "title": null, "labelExpr": "datum.value % 20 === 0 ? datum.label : ''", "labelFont": "Liberation Serif", "labelFontSize": 48, "labelPadding": 44, "tickSize": {"condition": {"test": "datum.value % 20 === 0", "value": -36}, "value": -18}}},
        "color": {"field": "s", "type": "nominal"}
      }
    },
    {
      "data": {"name": "nt"},
      "transform": [{"filter": "datum.s === 'n25'"}],
      "mark": {"type": "errorbar", "ticks": false, "thickness": 3, "clip": true},
      "encoding": {
        "x": {"field": "x", "type": "quantitative", "axis": null},
        "y": {"field": "y", "type": "quantitative", "axis": null},
        "yError": {"field": "e"},
        "color": {"field": "s", "type": "nominal"}
      }
    },
    {
      "data": {"values": [{}]},
      "mark": {"type": "text", "text": "PADME", "font": "Liberation Sans", "fontSize": 52, "fontWeight": "bold", "fontStyle": "italic", "align": "left", "baseline": "alphabetic", "color": "black"},
      "encoding": {"x": {"datum": -136.5, "axis": null}, "y": {"datum": 160.0, "axis": null}}
    },
    {
      "data": {"values": [{}]},
      "mark": {"type": "text", "text": "Internal", "font": "Liberation Serif", "fontSize": 52, "align": "left", "baseline": "alphabetic", "color": "black"},
      "encoding": {"x": {"datum": 52.9, "axis": null}, "y": {"datum": 160.0, "axis": null}}
    },
    {
      "data": {"values": [{}]},
      "mark": {"type": "text", "text": "nPOT=5.63195e+09", "font": "Liberation Serif", "fontSize": 51, "align": "left", "baseline": "alphabetic", "color": "black"},
      "encoding": {"x": {"datum": -140.7, "axis": null}, "y": {"datum": 138.9, "axis": null}}
    },
    {
      "data": {"values": [{}]},
      "mark": {"type": "rect", "color": "white", "clip": false},
      "encoding": {"x": {"datum": 208, "axis": null}, "x2": {"datum": 1150}, "y": {"datum": 72, "axis": null}, "y2": {"datum": 21}}
    },
    {
      "data": {"values": [{}]},
      "mark": {"type": "text", "text": "Mean", "font": "Lato", "fontSize": 84, "align": "left", "baseline": "alphabetic", "color": "#606060"},
      "encoding": {"x": {"datum": 269.8, "axis": null}, "y": {"datum": 51.2, "axis": null}}
    },
    {
      "data": {"values": [{}]},
      "mark": {"type": "text", "text": "Sigma", "font": "Lato", "fontSize": 84, "align": "left", "baseline": "alphabetic", "color": "#606060"},
      "encoding": {"x": {"datum": 250.8, "axis": null}, "y": {"datum": 28.0, "axis": null}}
    },
    {
      "data": {"values": [{}]},
      "mark": {"type": "text", "text": "~7 MeV2", "font": "Lato", "fontSize": 87, "align": "right", "baseline": "alphabetic", "color": "#606060"},
      "encoding": {"x": {"datum": 1116, "axis": null}, "y": {"datum": 51.2, "axis": null}}
    },
    {
      "data": {"values": [{}]},
      "mark": {"type": "text", "text": "~33 MeV2", "font": "Lato", "fontSize": 87, "align": "right", "baseline": "alphabetic", "color": "#606060"},
      "encoding": {"x": {"datum": 1136, "axis": null}, "y": {"datum": 28.0, "axis": null}}
    }
  ]
},
{
  "width": 1141, "height": 282,
  "resolve": {"axis": {"x": "independent", "y": "independent"}},
  "layer": [
    {
      "data": {"name": "ratio"},
      "mark": {"type": "rule", "strokeWidth": 2.5, "opacity": 0.7, "clip": true},
      "encoding": {
        "x": {"field": "x", "type": "quantitative", "scale": {"domain": [-200, 1000], "nice": false, "zero": false},
          "axis": {"orient": "bottom", "format": "d", "values": [-200,-150,-100,-50,0,50,100,150,200,250,300,350,400,450,500,550,600,650,700,750,800,850,900,950,1000], "labelExpr": "datum.value % 200 === 0 ? datum.label : ''", "labelFont": "Liberation Sans", "labelFontSize": 42, "labelPadding": 19, "tickSize": {"condition": {"test": "datum.value % 200 === 0", "value": -12}, "value": -7},
            "title": "Missing Mass [MeV^2]", "titleFont": "Liberation Sans", "titleFontSize": 45, "titleFontWeight": "normal", "titleColor": "black", "titleAnchor": "end", "titlePadding": 0}},
        "y": {"field": "lo", "type": "quantitative", "scale": {"type": "log", "domain": [0.1, 12], "nice": false},
          "axis": {"orient": "left", "values": [0.1,0.2,0.3,0.4,0.5,0.6,0.7,0.8,0.9,1,2,3,4,5,6,7,8,9,10], "grid": true, "gridDash": [2, 4], "gridColor": "#333333", "gridWidth": 1.2,
            "labelExpr": "datum.value == 1 ? '1' : (datum.value == 10 ? '10' : (datum.value < 0.15 ? '10⁻¹' : ''))", "labelFont": "Liberation Sans", "labelFontSize": 42, "labelPadding": 49,
            "tickSize": {"condition": {"test": "datum.value == 1 || datum.value == 10 || datum.value < 0.15", "value": -27}, "value": -15},
            "title": "Target/NoTarget", "titleFont": "Liberation Sans", "titleFontSize": 45, "titleFontWeight": "normal", "titleColor": "black", "titleAnchor": "end", "titlePadding": 5}},
        "y2": {"field": "hi"},
        "color": {"field": "s", "type": "nominal", "legend": null,
          "scale": {"domain": ["t5","n5","t10","n10","t15","n15","t20","n20","t25","n25"], "range": ["#ff2020","#ff2020","#2040ff","#2040ff","#ffee00","#ffee00","#000000","#808080","#55ee33","#55ee33"]}}
      }
    },
    {
      "data": {"name": "ratio"},
      "mark": {"type": "point", "filled": true, "size": 100, "opacity": 1, "clip": true},
      "encoding": {
        "x": {"field": "x", "type": "quantitative", "axis": {"orient": "top", "values": [-200,-150,-100,-50,0,50,100,150,200,250,300,350,400,450,500,550,600,650,700,750,800,850,900,950,1000], "labels": false, "title": null, "tickSize": {"condition": {"test": "datum.value % 200 === 0", "value": -12}, "value": -7}}},
        "y": {"field": "y", "type": "quantitative", "axis": {"orient": "right", "values": [0.1,0.2,0.3,0.4,0.5,0.6,0.7,0.8,0.9,1,2,3,4,5,6,7,8,9,10], "labels": false, "title": null, "grid": false, "tickSize": {"condition": {"test": "datum.value == 1 || datum.value == 10 || datum.value < 0.15", "value": -27}, "value": -15}}},
        "color": {"field": "s", "type": "nominal", "legend": null}
      }
    }
  ]
}
]
}
